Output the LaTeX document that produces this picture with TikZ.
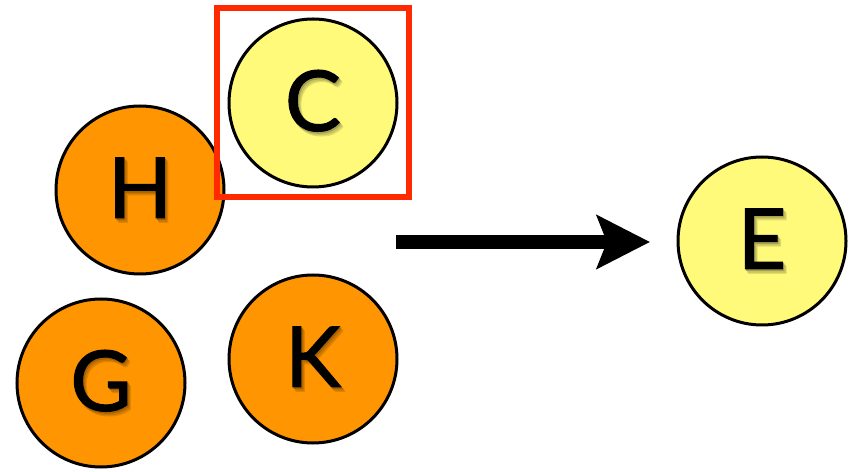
\documentclass[tikz,border=0pt]{standalone}
\usepackage{fontspec}
\setmainfont{Lato}
\newfontfamily\ballfont{Lato}[FakeBold=1.2]
\usetikzlibrary{arrows.meta}
\definecolor{ballorange}{HTML}{FF9500}
\definecolor{ballyellow}{HTML}{FFFA7A}
\definecolor{framered}{HTML}{FF2A00}
\tikzset{
  ball/.style={circle, draw=black, line width=3pt, minimum size=168pt, inner sep=0pt,
    font=\ballfont\fontsize{84}{84}\selectfont, text=black},
  orangeball/.style={ball, fill=ballorange},
  yellowball/.style={ball, fill=ballyellow},
  bigarrow/.style={line width=14pt, -{Stealth[length=53pt, width=53pt, inset=10pt]}}
}
% letter with a soft drop shadow tinted from the ball colour #1
\newcommand{\softletter}[2]{%
  \rlap{\hspace{3.5pt}\raisebox{-4.5pt}{\textcolor{#1!88!black}{#2}}}%
  \rlap{\hspace{2.5pt}\raisebox{-3.2pt}{\textcolor{#1!78!black}{#2}}}%
  \rlap{\hspace{1.2pt}\raisebox{-1.6pt}{\textcolor{#1!65!black}{#2}}}%
  #2}
\begin{document}
\begin{tikzpicture}[x=1pt, y=1pt]
  \useasboundingbox (0,0) rectangle (851,471);

  % balls
  \node[yellowball] (c) at (313,368) {\softletter{ballyellow}{C}};
  \node[orangeball] (h) at (140,281) {\softletter{ballorange}{H}};
  \node[orangeball] (g) at (101,88)  {\softletter{ballorange}{G}};
  \node[orangeball] (k) at (313,112) {\softletter{ballorange}{K}};
  \node[yellowball] (e) at (762,230) {\softletter{ballyellow}{E}};

  % selection frame round C
  \coordinate (frameSW) at (216.5,273.5);
  \coordinate (frameNE) at (409,462.5);
  \draw[framered, line width=6pt] (frameSW) rectangle (frameNE);

  % transition arrow
  \coordinate (arrowstart) at (396,229);
  \coordinate (arrowtip) at (650,229);
  \draw[bigarrow] (arrowstart) -- (arrowtip);
\end{tikzpicture}
\end{document}
